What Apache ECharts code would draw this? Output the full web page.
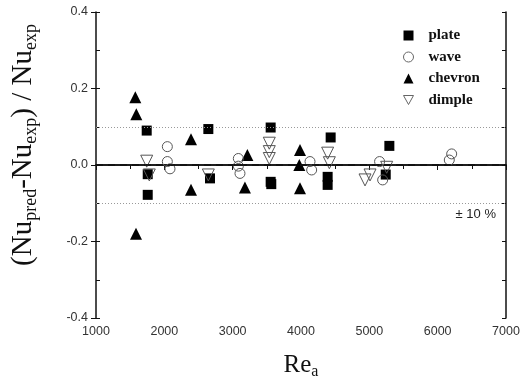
<!DOCTYPE html>
<html>
<head>
<meta charset="utf-8">
<script src="https://cdn.jsdelivr.net/npm/echarts@6/dist/echarts.min.js"></script>
<style>
  html, body { margin: 0; padding: 0; background: #fff; }
  #chart { width: 529px; height: 383px; }
</style>
</head>
<body>
<div id="chart"></div>
<script>
const plateRe = [1742, 1757, 1757, 2644, 2668, 3556, 3556, 3565, 4434, 4390, 4390, 5293, 5240];
const plateErr = [0.090, -0.024, -0.078, 0.094, -0.035, 0.098, -0.044, -0.050, 0.072, -0.031, -0.052, 0.050, -0.025];

const waveRe = [2044, 2044, 2083, 3083, 3083, 3107, 4132, 4156, 5150, 5195, 6205, 6170];
const waveErr = [0.048, 0.009, -0.010, 0.017, -0.003, -0.022, 0.009, -0.013, 0.009, -0.039, 0.029, 0.013];

const chevronRe = [1575, 1590, 1585, 2390, 2390, 3215, 3180, 3985, 3975, 3985];
const chevronErr = [0.177, 0.133, -0.180, 0.067, -0.065, 0.026, -0.059, 0.039, 0.000, -0.061];

const dimpleRe = [1742, 1780, 2644, 3536, 3536, 3536, 4390, 4415, 4937, 5010, 5254];
const dimpleErr = [0.010, -0.026, -0.026, 0.057, 0.035, 0.017, 0.031, 0.006, -0.039, -0.026, -0.006];

const bandLimit = 0.1;

const pairs = (xs, ys) => xs.map((x, i) => [x, ys[i]]);

const chart = echarts.init(document.getElementById("chart"));

const tickFont = { color: "#333", fontSize: 12.5, fontFamily: "Liberation Sans, Arial" };
const serif = "Liberation Serif, Times New Roman";
const downTri = "path://M0,0 L10,0 L5,9 Z";

chart.setOption({
  animation: false,
  grid: { left: 96, top: 12, width: 410, height: 306, outerBoundsMode: "none", containLabel: false },
  legend: {
    orient: "vertical",
    left: 398,
    top: 23,
    itemGap: 6.5,
    itemWidth: 10,
    itemHeight: 10,
    textStyle: {
      fontFamily: serif,
      fontWeight: "bold",
      fontSize: 15,
      color: "#111",
      padding: [0, 0, 0, 10],
    },
    data: [
      { name: "plate", icon: "rect", itemStyle: { color: "#000", opacity: 1 } },
      { name: "wave", icon: "circle", itemStyle: { color: "#fff", borderColor: "#666", borderWidth: 1 } },
      { name: "chevron", icon: "triangle", itemStyle: { color: "#000", opacity: 1 } },
      { name: "dimple", icon: downTri, itemStyle: { color: "#fff", borderColor: "#666", borderWidth: 1 } },
    ],
  },
  xAxis: [
    {
      type: "value",
      min: 1000,
      max: 7000,
      interval: 1000,
      position: "bottom",
      axisLine: { lineStyle: { color: "#111", width: 1.5 } },
      axisTick: { inside: false, length: 5, lineStyle: { color: "#111" } },
      minorTick: { show: true, splitNumber: 2, length: 3, lineStyle: { color: "#111" } },
      axisLabel: { ...tickFont, margin: 7, formatter: (v) => String(v) },
      splitLine: { show: false },
      name: "Re{s|a}",
      nameLocation: "middle",
      nameGap: 32,
      nameTextStyle: {
        fontFamily: serif,
        fontSize: 25,
        color: "#111",
        rich: {
          s: { fontFamily: serif, fontSize: 16, color: "#111", padding: [14, 0, 0, 0] },
        },
      },
    },
    {
      type: "value",
      min: 1000,
      max: 7000,
      interval: 500,
      position: "top",
      axisLine: { lineStyle: { color: "#111", width: 1.5 } },
      axisTick: { inside: true, length: 4, lineStyle: { color: "#111" } },
      axisLabel: { show: false },
      splitLine: { show: false },
    },
  ],
  yAxis: [
    {
      type: "value",
      min: -0.4,
      max: 0.4,
      interval: 0.2,
      position: "left",
      axisLine: { show: true, lineStyle: { color: "#111", width: 1.5 } },
      axisTick: { show: true, inside: false, length: 5, lineStyle: { color: "#111" } },
      axisLabel: { ...tickFont, margin: 8, formatter: (v) => v.toFixed(1) },
      splitLine: { show: false },
      name: "(Nu{s|pred}-Nu{s|exp}) / Nu{s|exp}",
      nameLocation: "middle",
      nameRotate: 90,
      nameGap: 56,
      nameTextStyle: {
        fontFamily: serif,
        fontSize: 29,
        color: "#111",
        padding: [0, 0, 0, 40],
        rich: {
          s: { fontFamily: serif, fontSize: 18, color: "#111", padding: [15, 0, 0, 0] },
        },
      },
    },
    {
      type: "value",
      min: -0.4,
      max: 0.4,
      interval: 0.1,
      position: "left",
      axisLine: { show: false },
      axisTick: { show: true, inside: true, length: 4, lineStyle: { color: "#111" } },
      axisLabel: { show: false },
      splitLine: { show: false },
    },
    {
      type: "value",
      min: -0.4,
      max: 0.4,
      interval: 0.1,
      position: "right",
      axisLine: { show: true, lineStyle: { color: "#111", width: 1.5 } },
      axisTick: { show: true, inside: true, length: 4, lineStyle: { color: "#111" } },
      axisLabel: { show: false },
      splitLine: { show: false },
    },
  ],
  graphic: [
    {
      type: "text",
      right: 33,
      top: 208,
      style: { text: "± 10 %", fontFamily: "Liberation Sans, Arial", fontSize: 13, fill: "#222" },
    },
  ],
  series: [
    {
      name: "plate",
      type: "scatter",
      symbol: "rect",
      symbolSize: 10,
      itemStyle: { color: "#000", opacity: 1 },
      data: pairs(plateRe, plateErr),
      z: 3,
      markLine: {
        silent: true,
        symbol: "none",
        label: { show: false },
        data: [
          { yAxis: 0, lineStyle: { type: [7, 5], color: "#111", width: 1.6 } },
          { yAxis: bandLimit, lineStyle: { type: [1, 2], color: "#999", width: 1 } },
          { yAxis: -bandLimit, lineStyle: { type: [1, 2], color: "#999", width: 1 } },
        ],
      },
    },
    {
      name: "wave",
      type: "scatter",
      symbol: "circle",
      symbolSize: 10,
      itemStyle: { color: "rgba(255,255,255,0)", borderColor: "#555", borderWidth: 1, opacity: 1 },
      data: pairs(waveRe, waveErr),
      z: 4,
    },
    {
      name: "chevron",
      type: "scatter",
      symbol: "triangle",
      symbolSize: 12,
      itemStyle: { color: "#000", opacity: 1 },
      data: pairs(chevronRe, chevronErr),
      z: 3,
    },
    {
      name: "dimple",
      type: "scatter",
      symbol: "triangle",
      symbolRotate: 180,
      symbolSize: 12,
      itemStyle: { color: "rgba(255,255,255,0)", borderColor: "#555", borderWidth: 1, opacity: 1 },
      data: pairs(dimpleRe, dimpleErr),
      z: 4,
    },
  ],
});
</script>
</body>
</html>
